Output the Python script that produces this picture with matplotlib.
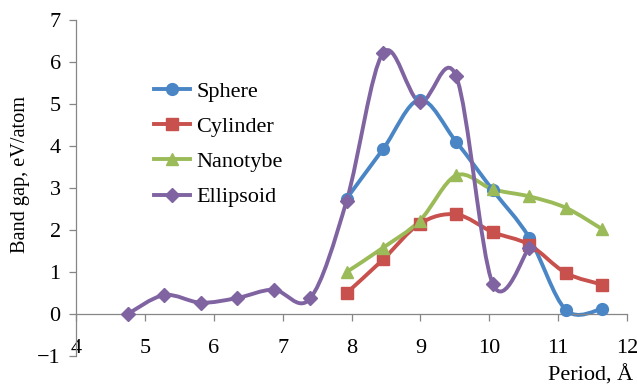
import matplotlib.pyplot as plt
from matplotlib.path import Path
from matplotlib.patches import PathPatch
from matplotlib.lines import Line2D

plt.rcParams['font.family'] = ['Liberation Serif', 'DejaVu Serif']
plt.rcParams['font.size'] = 16

# Datos
x_ellipsoid = [4.75, 5.28, 5.81, 6.34, 6.87, 7.40, 7.93, 8.46, 8.99, 9.52, 10.05, 10.58]
ellipsoid = [0.0, 0.45, 0.27, 0.38, 0.58, 0.37, 2.70, 6.22, 5.05, 5.66, 0.72, 1.58]

x_others = [7.93, 8.46, 8.99, 9.52, 10.05, 10.58, 11.11, 11.64]
sphere = [2.75, 3.93, 5.10, 4.10, 2.95, 1.82, 0.10, 0.12]
cylinder = [0.50, 1.30, 2.15, 2.37, 1.95, 1.65, 0.98, 0.70]
nanotybe = [1.00, 1.58, 2.22, 3.30, 2.97, 2.80, 2.53, 2.02]

series = [
    ('Sphere', x_others, sphere, '#4A86C5', 'o', 8.5),
    ('Cylinder', x_others, cylinder, '#C8504D', 's', 8.5),
    ('Nanotybe', x_others, nanotybe, '#9BBB59', '^', 9),
    ('Ellipsoid', x_ellipsoid, ellipsoid, '#8064A2', 'D', 7),
]


def curva_suave(xs, ys):
    # Curva tipo Excel (Bezier cubica por segmento)
    pts = list(zip(xs, ys))
    n = len(pts)
    verts = [pts[0]]
    codes = [Path.MOVETO]
    for i in range(n - 1):
        p0 = pts[i - 1] if i > 0 else pts[i]
        p1 = pts[i]
        p2 = pts[i + 1]
        p3 = pts[i + 2] if i + 2 < n else pts[i + 1]
        c1 = (p1[0] + (p2[0] - p0[0]) / 6, p1[1] + (p2[1] - p0[1]) / 6)
        c2 = (p2[0] - (p3[0] - p1[0]) / 6, p2[1] - (p3[1] - p1[1]) / 6)
        verts += [c1, c2, p2]
        codes += [Path.CURVE4] * 3
    return Path(verts, codes)


fig = plt.figure(figsize=(6.37, 3.87), dpi=100)
ax = fig.add_axes([76 / 637, 1 - 356 / 387, 551 / 637, 336 / 387])

handles = []
for nombre, xs, ys, color, marker, ms in series:
    patch = PathPatch(curva_suave(xs, ys), facecolor='none', edgecolor=color, lw=2.8,
                      capstyle='round', joinstyle='round')
    ax.add_patch(patch)
    ax.plot(xs, ys, linestyle='none', marker=marker, color=color, markersize=ms, zorder=3)
    handles.append(Line2D([], [], color=color, lw=2.8, marker=marker, markersize=ms))

ax.set_xlim(4, 12)
ax.set_ylim(-1, 7)
ax.set_xticks(range(4, 13))
ax.set_yticks(range(-1, 8))

ax.spines['top'].set_visible(False)
ax.spines['right'].set_visible(False)
ax.spines['bottom'].set_position(('data', 0))
for s in ['left', 'bottom']:
    ax.spines[s].set_color('#868686')
    ax.spines[s].set_linewidth(0.9)
ax.tick_params(axis='both', colors='#868686', labelcolor='black', length=5, width=0.9)
ax.tick_params(axis='x', pad=13)
ax.tick_params(axis='y', pad=6)

ax.set_xlabel('Period, Å', ha='right', va='center')
ax.xaxis.set_label_coords(1.011, -0.057)
ax.set_ylabel('Band gap, eV/atom', va='center', fontsize=14.6)
ax.yaxis.set_label_coords(-0.100, 0.539)

fig.legend(handles, [s[0] for s in series], loc='upper left', frameon=False,
           bbox_to_anchor=(143 / 637, 1 - 70 / 387), bbox_transform=fig.transFigure,
           borderpad=0, handlelength=1.6, handletextpad=0.3, labelspacing=0.66)

plt.savefig('out.png', dpi=100)
